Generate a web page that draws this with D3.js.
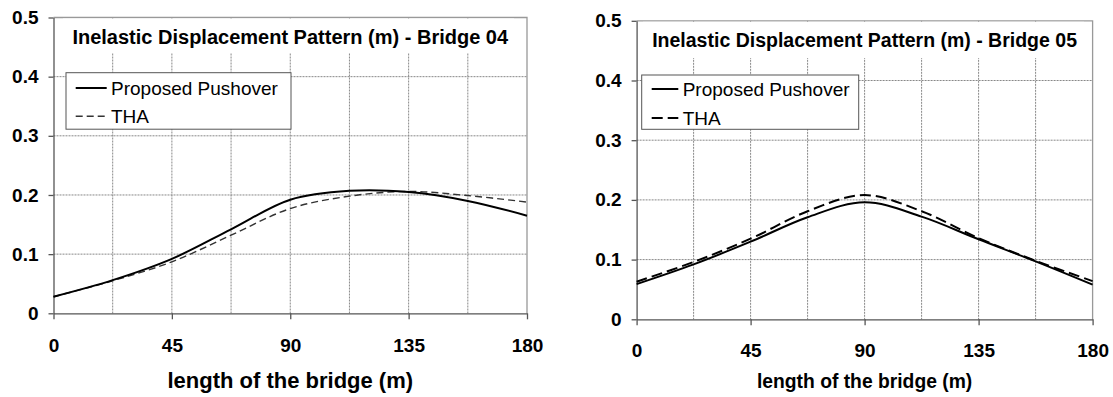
<!DOCTYPE html>
<html>
<head>
<meta charset="utf-8">
<script src="https://cdn.jsdelivr.net/npm/d3@7"></script>
<style>
  body { margin: 0; background: #fff; }
  svg { display: block; }
  text { font-family: "Liberation Sans", Arial, sans-serif; fill: #000; }
</style>
</head>
<body>
<svg id="chart" width="1113" height="397"></svg>
<script>
// data (m), positions along the bridge every 22.5 m
const positions = [0, 22.5, 45, 67.5, 90, 112.5, 135, 157.5, 180];
const bridge04Pushover = [0.028, 0.056, 0.092, 0.142, 0.192, 0.207, 0.205, 0.190, 0.165];
const bridge04THA      = [0.028, 0.055, 0.087, 0.132, 0.177, 0.198, 0.206, 0.199, 0.188];
const bridge05Pushover = [0.059, 0.092, 0.130, 0.171, 0.196, 0.172, 0.134, 0.097, 0.058];
const bridge05THA      = [0.063, 0.096, 0.135, 0.181, 0.208, 0.181, 0.136, 0.098, 0.064];

const xTicks = [0, 45, 90, 135, 180];
const xGrid = [22.5, 45, 67.5, 90, 112.5, 135, 157.5];
const yTicks = [0, 0.1, 0.2, 0.3, 0.4, 0.5];
const seriesNames = ["Proposed Pushover", "THA"];
const xTitle = "length of the bridge (m)";

const svg = d3.select('#chart');

const panels = [
  {
    title: "Inelastic Displacement Pattern (m) - Bridge 04",
    pushover: bridge04Pushover, tha: bridge04THA,
    x0: 53.5, x1: 527, y0: 313.3, y1: 17.5,
    titleSize: 20, titleY: 44, titleBox: [63, 514, 53],
    tickPad: 18.9, axisTitleSize: 22,
    legend: { x: 66, y: 72.7, w: 225, h: 56.5, lx0: 75.7, lx1: 106.7, tx: 111, b1: 95, b2: 123.3 },
    dash: "7,4", dashWidth: 1.4, dashColor: "#333"
  },
  {
    title: "Inelastic Displacement Pattern (m) - Bridge 05",
    pushover: bridge05Pushover, tha: bridge05THA,
    x0: 636.6, x1: 1092.6, y0: 319.3, y1: 20.8,
    titleSize: 19.5, titleY: 47, titleBox: [643, 1084, 58],
    tickPad: 18.2, axisTitleSize: 19.3,
    legend: { x: 641.7, y: 75, w: 217, h: 54.3, lx0: 651.7, lx1: 678.3, tx: 682.7, b1: 96, b2: 125 },
    dash: "11,5", dashWidth: 2, dashColor: "#000"
  }
];

panels.forEach(p => drawPanel(p));

function drawPanel(p) {
  const x = d3.scaleLinear().domain([0, 180]).range([p.x0, p.x1]);
  const y = d3.scaleLinear().domain([0, 0.5]).range([p.y0, p.y1]);
  const g = svg.append('g');

  // dotted grid
  g.append('g')
    .selectAll('line.h')
    .data(yTicks.slice(1, -1))
    .join('line')
    .attr('x1', p.x0).attr('x2', p.x1)
    .attr('y1', d => y(d)).attr('y2', d => y(d))
    .attr('stroke', '#888').attr('stroke-width', 1).attr('stroke-dasharray', '2,1');
  g.append('g')
    .selectAll('line.v')
    .data(xGrid)
    .join('line')
    .attr('x1', d => x(d)).attr('x2', d => x(d))
    .attr('y1', p.y1).attr('y2', p.y0)
    .attr('stroke', '#888').attr('stroke-width', 1).attr('stroke-dasharray', '2,1');

  // plot border top/right
  g.append('path')
    .attr('d', `M${p.x0},${p.y1}H${p.x1}V${p.y0}`)
    .attr('fill', 'none').attr('stroke', '#999').attr('stroke-width', 1.3);

  // title sits on a white box that hides the grid
  g.append('rect')
    .attr('x', p.titleBox[0]).attr('y', p.y1 + 1)
    .attr('width', p.titleBox[1] - p.titleBox[0])
    .attr('height', p.titleBox[2] - p.y1 - 1)
    .attr('fill', '#fff');
  g.append('text')
    .attr('x', (p.x0 + p.x1) / 2).attr('y', p.titleY)
    .attr('text-anchor', 'middle')
    .style('font-size', p.titleSize + 'px').style('font-weight', 'bold')
    .text(p.title);

  // axes
  const xAxis = g.append('g')
    .attr('transform', `translate(0,${p.y0})`)
    .call(d3.axisBottom(x).tickValues(xTicks).tickSize(6).tickSizeOuter(0).tickPadding(p.tickPad));
  const yAxis = g.append('g')
    .attr('transform', `translate(${p.x0},0)`)
    .call(d3.axisLeft(y).tickValues(yTicks).tickSize(5).tickSizeOuter(0).tickPadding(10)
      .tickFormat(d => d === 0 ? '0' : d3.format('.1f')(d)));
  [xAxis, yAxis].forEach(a => {
    a.select('.domain').attr('stroke', '#555').attr('stroke-width', 1.3);
    a.selectAll('.tick line').attr('stroke', '#555').attr('stroke-width', 1.3);
    a.selectAll('.tick text')
      .attr('fill', '#000')
      .style('font-family', '"Liberation Sans", Arial, sans-serif')
      .style('font-size', '19px').style('font-weight', 'bold');
  });

  g.append('text')
    .attr('x', (p.x0 + p.x1) / 2).attr('y', 388)
    .attr('text-anchor', 'middle')
    .style('font-size', p.axisTitleSize + 'px').style('font-weight', 'bold')
    .text(xTitle);

  // curves
  const line = d3.line()
    .x((d, i) => x(positions[i]))
    .y(d => y(d))
    .curve(d3.curveCatmullRom);

  g.append('path')
    .datum(p.tha)
    .attr('d', line)
    .attr('fill', 'none').attr('stroke', p.dashColor)
    .attr('stroke-width', p.dashWidth).attr('stroke-dasharray', p.dash);
  g.append('path')
    .datum(p.pushover)
    .attr('d', line)
    .attr('fill', 'none').attr('stroke', '#000').attr('stroke-width', 2);

  // legend
  const L = p.legend;
  const leg = g.append('g');
  leg.append('rect')
    .attr('x', L.x).attr('y', L.y).attr('width', L.w).attr('height', L.h)
    .attr('fill', '#fff').attr('stroke', '#555').attr('stroke-width', 1);
  const rows = [
    { name: seriesNames[0], base: L.b1, dash: null, color: '#000', w: 2 },
    { name: seriesNames[1], base: L.b2, dash: p.dash, color: p.dashColor, w: p.dashWidth }
  ];
  rows.forEach(r => {
    leg.append('line')
      .attr('x1', L.lx0).attr('x2', L.lx1)
      .attr('y1', r.base - 7).attr('y2', r.base - 7)
      .attr('stroke', r.color).attr('stroke-width', r.w)
      .attr('stroke-dasharray', r.dash);
    leg.append('text')
      .attr('x', L.tx).attr('y', r.base)
      .style('font-size', '19px')
      .text(r.name);
  });
}
</script>
</body>
</html>
